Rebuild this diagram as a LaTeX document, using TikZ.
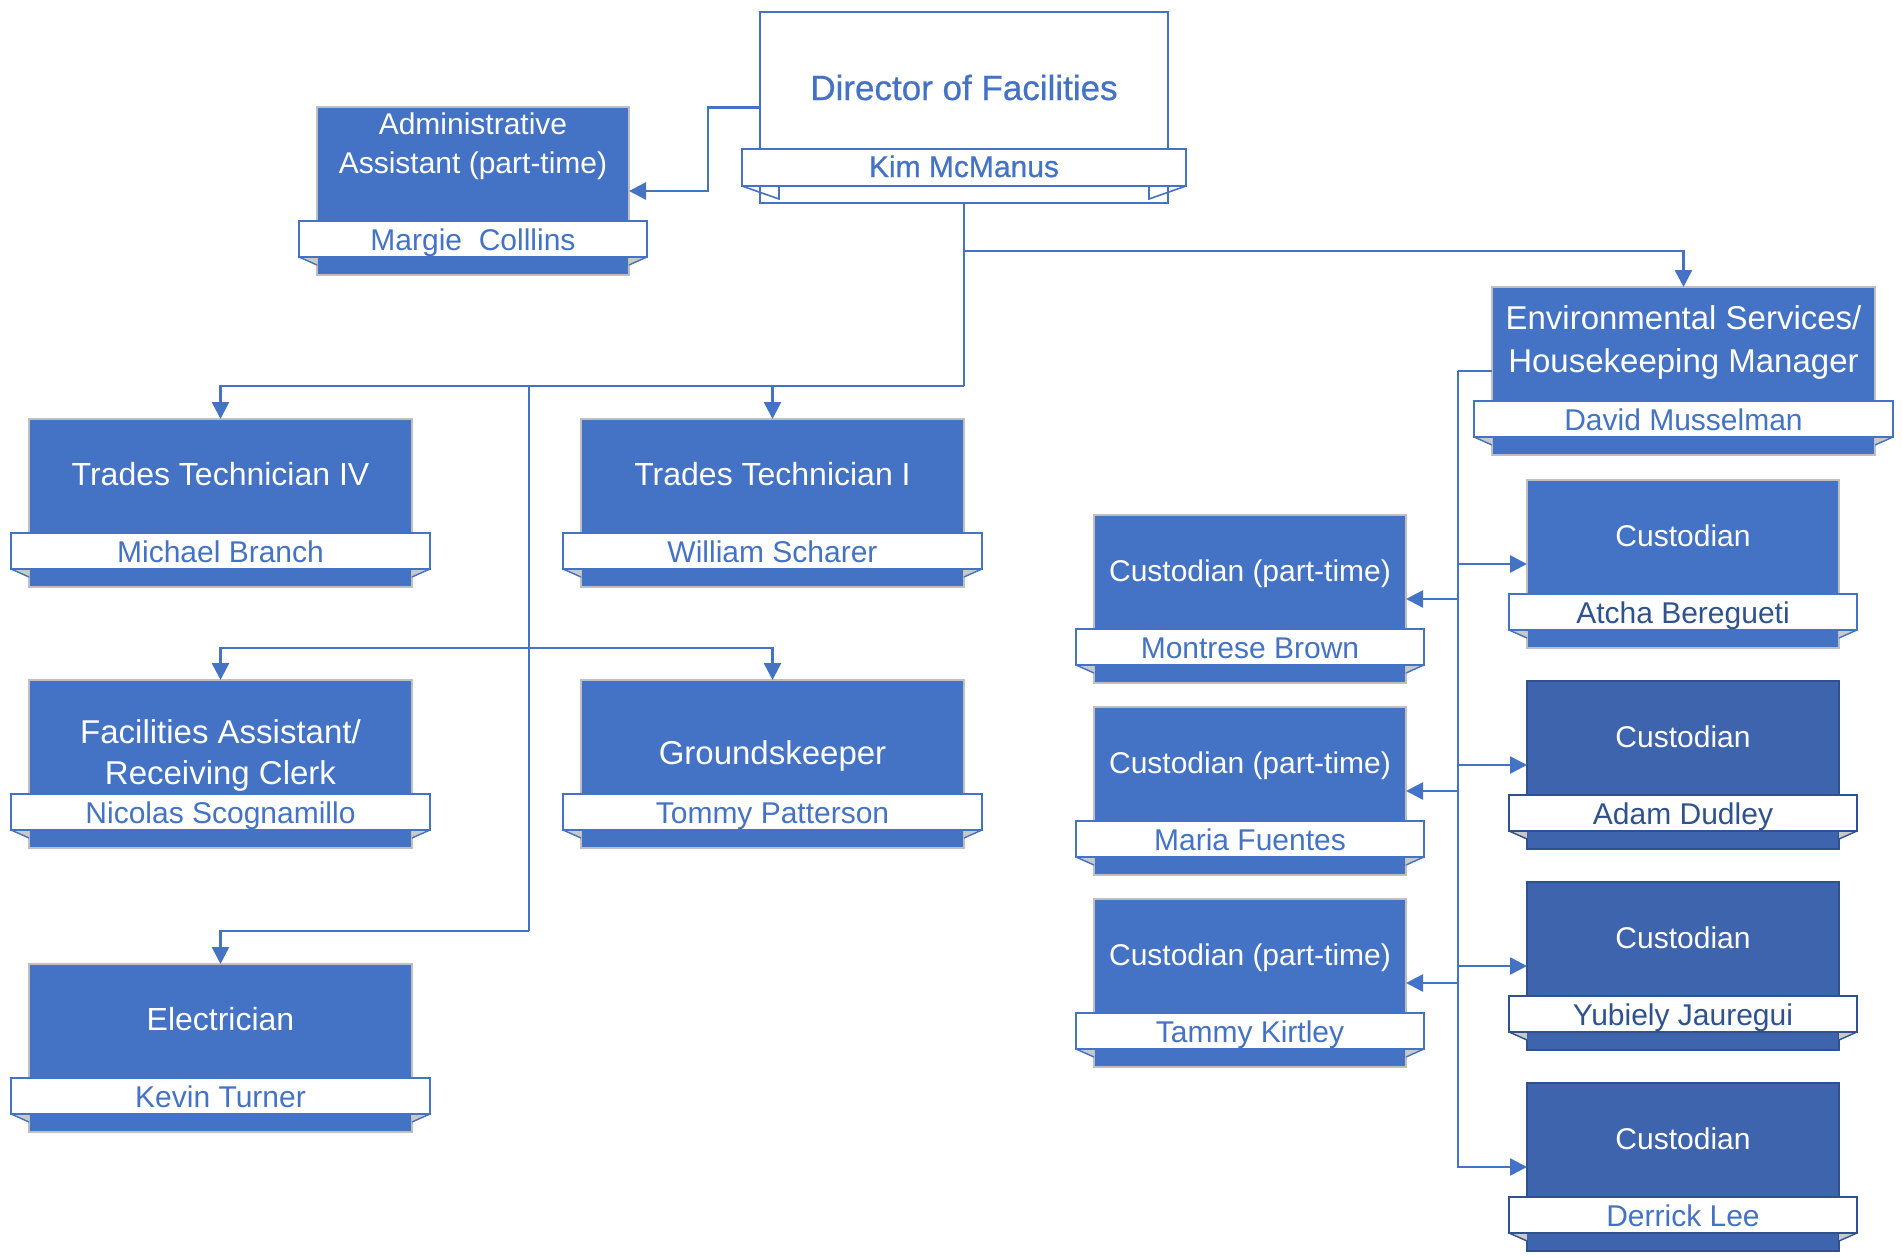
\documentclass[tikz,border=0pt]{standalone}
\usepackage{fontspec}
\setmainfont{Liberation Sans}
\newfontfamily\medfont{Liberation Sans}[FakeBold=0.6]
\usetikzlibrary{calc,arrows.meta}
\definecolor{obl}{HTML}{4472C4}
\definecolor{odk}{HTML}{3E64AD}
\definecolor{onv}{HTML}{2F528F}
\definecolor{ogr}{HTML}{BFBFBF}
\definecolor{otail}{HTML}{C9C9C9}
% #1 box name, #2 person, #3 line colour, #4 text colour
\newcommand\ribbon[4]{%
  \fill[otail] ($(#1.south west)+(-18,-18)$) -- ($(#1.south west)+(0,-18)$) -- ($(#1.south west)+(0,-10)$) -- cycle;
  \fill[otail] ($(#1.south east)+(18,-18)$) -- ($(#1.south east)+(0,-18)$) -- ($(#1.south east)+(0,-10)$) -- cycle;
  \draw[draw=#3, line width=0.7pt] ($(#1.south west)+(-18,-18)$) -- ($(#1.south west)+(0,-10)$);
  \draw[draw=#3, line width=0.7pt] ($(#1.south east)+(18,-18)$) -- ($(#1.south east)+(0,-10)$);
  \draw[draw=#3, line width=0.8pt, fill=white] ($(#1.south west)+(-18,-54)$) rectangle ($(#1.south east)+(18,-18)$);
  \node[nm, text=#4] (#1-n) at ($(#1.south)+(0,-25)$) {#2};
}
\begin{document}
\begin{tikzpicture}[
  x=0.5pt, y=-0.5pt,
  lb/.style={draw=ogr, line width=0.6pt, fill=obl, anchor=north west, inner sep=0, outer sep=0},
  db/.style={draw=onv, line width=0.9pt, fill=odk, anchor=north west, inner sep=0, outer sep=0},
  wide/.style={minimum width=191.5pt, minimum height=84pt},
  narrow/.style={minimum width=156pt, minimum height=84pt},
  nm/.style={anchor=base, inner sep=0, font=\fontsize{15}{18}\selectfont},
  ttl/.style={anchor=base, inner sep=0, text=white, font=\fontsize{16}{20}\selectfont},
  ttlb/.style={anchor=base, inner sep=0, text=white, font=\fontsize{16.5}{20}\selectfont},
  ttls/.style={anchor=base, inner sep=0, text=white, font=\fontsize{15}{18}\selectfont},
  con/.style={draw=obl, line width=1.3pt},
  arr/.style={con, -{Triangle[length=8.5pt,width=8.5pt]}},
]
\fill[white] (0,0) rectangle (1902,1258);
\useasboundingbox (0,0) rectangle (1902,1258);

% Director
\node[draw=obl, line width=0.8pt, fill=white, anchor=north west, inner sep=0, outer sep=0,
      minimum width=204pt, minimum height=95.5pt] (dir) at (760,12) {};
\node[anchor=base, inner sep=0, text=obl, font=\medfont\fontsize{17.5}{21}\selectfont] (dir-t) at ($(dir.north)+(0,88)$) {Director of Facilities};
\draw[obl, line width=0.8pt] ($(dir.south west)+(-18,-17)$) -- ($(dir.south west)+(19,-4)$) -- ($(dir.south west)+(19,-17)$);
\draw[obl, line width=0.8pt] ($(dir.south east)+(18,-17)$) -- ($(dir.south east)+(-19,-4)$) -- ($(dir.south east)+(-19,-17)$);
\draw[draw=obl, line width=0.8pt, fill=white] ($(dir.south west)+(-18,-54)$) rectangle ($(dir.south east)+(18,-17)$);
\node[nm, text=obl, font=\medfont\fontsize{15}{18}\selectfont] (dir-n) at ($(dir.south)+(0,-26)$) {Kim McManus};

% Administrative assistant
\node[lb, narrow] (adm) at (317,107) {};
\node[ttls] at ($(adm.north)+(0,27)$) {Administrative};
\node[ttls] at ($(adm.north)+(0,66)$) {Assistant (part-time)};
\ribbon{adm}{Margie\ \ Colllins}{obl}{obl}

% Trades technicians
\node[lb, wide] (tt4) at (29,419) {};
\node[ttl] at ($(tt4.north)+(0,66)$) {Trades Technician IV};
\ribbon{tt4}{Michael Branch}{obl}{obl}

\node[lb, wide] (tt1) at (581,419) {};
\node[ttl] at ($(tt1.north)+(0,66)$) {Trades Technician I};
\ribbon{tt1}{William Scharer}{obl}{obl}

% Facilities assistant / Groundskeeper
\node[lb, wide] (fa) at (29,680) {};
\node[ttlb] at ($(fa.north)+(0,63)$) {Facilities Assistant/};
\node[ttlb] at ($(fa.north)+(0,104)$) {Receiving Clerk};
\ribbon{fa}{Nicolas Scognamillo}{obl}{obl}

\node[lb, wide] (gk) at (581,680) {};
\node[ttlb] at ($(gk.north)+(0,84)$) {Groundskeeper};
\ribbon{gk}{Tommy Patterson}{obl}{obl}

% Electrician
\node[lb, wide] (el) at (29,964) {};
\node[ttl] at ($(el.north)+(0,66)$) {Electrician};
\ribbon{el}{Kevin Turner}{obl}{obl}

% Environmental services
\node[lb, wide] (env) at (1492,287) {};
\node[ttlb] at ($(env.north)+(0,42)$) {Environmental Services/};
\node[ttlb] at ($(env.north)+(0,85)$) {Housekeeping Manager};
\ribbon{env}{David Musselman}{obl}{obl}

% Custodians (right column)
\node[lb, narrow] (c1) at (1527,480) {};
\node[ttls] at ($(c1.north)+(0,66)$) {Custodian};
\ribbon{c1}{Atcha Beregueti}{obl}{onv}

\node[db, narrow] (c2) at (1527,681) {};
\node[ttls] at ($(c2.north)+(0,66)$) {Custodian};
\ribbon{c2}{Adam Dudley}{onv}{onv}

\node[db, narrow] (c3) at (1527,882) {};
\node[ttls] at ($(c3.north)+(0,66)$) {Custodian};
\ribbon{c3}{Yubiely Jauregui}{onv}{onv}

\node[db, narrow] (c4) at (1527,1083) {};
\node[ttls] at ($(c4.north)+(0,66)$) {Custodian};
\ribbon{c4}{Derrick Lee}{onv}{obl}

% Part-time custodians (left column)
\node[lb, narrow] (p1) at (1094,515) {};
\node[ttls] at ($(p1.north)+(0,66)$) {Custodian (part-time)};
\ribbon{p1}{Montrese Brown}{obl}{obl}

\node[lb, narrow] (p2) at (1094,707) {};
\node[ttls] at ($(p2.north)+(0,66)$) {Custodian (part-time)};
\ribbon{p2}{Maria Fuentes}{obl}{obl}

\node[lb, narrow] (p3) at (1094,899) {};
\node[ttls] at ($(p3.north)+(0,66)$) {Custodian (part-time)};
\ribbon{p3}{Tammy Kirtley}{obl}{obl}

% Connectors
\coordinate (b0) at (dir.south |- 0,251);
\coordinate (b1) at (dir.south |- 0,386);
\coordinate (j1) at (529,386);
\coordinate (j2) at (529,648);
\coordinate (j3) at (529,931);
\coordinate (s0) at (env.west -| 1458,0);

\draw[arr] (dir.west) -- ++(-52,0) |- (adm.east);
\draw[con] (dir.south) -- (b1);
\draw[arr] (b0) -| (env.north);
\draw[arr] (b1) -| (tt4.north);
\draw[arr] (b1) -| (tt1.north);
\draw[con] (j1) -- (j3);
\draw[arr] (j2) -| (fa.north);
\draw[arr] (j2) -| (gk.north);
\draw[arr] (j3) -| (el.north);

\draw[con] (env.west) -- (s0);
\draw[arr] (s0) |- (c4.west);
\draw[arr] (s0 |- c1.west) -- (c1.west);
\draw[arr] (s0 |- c2.west) -- (c2.west);
\draw[arr] (s0 |- c3.west) -- (c3.west);
\draw[arr] (s0 |- p1.east) -- (p1.east);
\draw[arr] (s0 |- p2.east) -- (p2.east);
\draw[arr] (s0 |- p3.east) -- (p3.east);
\end{tikzpicture}
\end{document}
